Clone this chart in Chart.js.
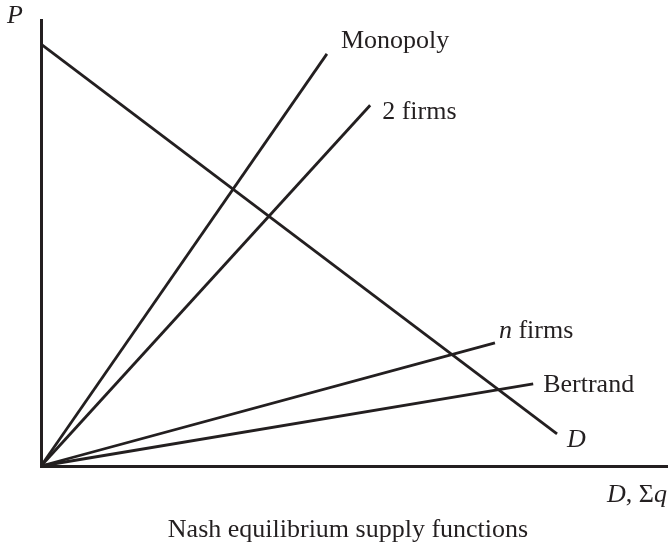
<!DOCTYPE html>
<html>
<head>
<meta charset="utf-8">
<script src="https://cdn.jsdelivr.net/npm/chart.js@4"></script>
<style>
  html, body { margin: 0; padding: 0; background: #fff; }
</style>
</head>
<body>
<canvas id="nash" width="668" height="545"></canvas>
<script>
// schematic lines, in axis units (0-100 on both axes)
const lineNames = ['D', 'Monopoly', '2 firms', 'n firms', 'Bertrand'];
const startX = [0, 0, 0, 0, 0];
const startY = [94.6, 0, 0, 0, 0];
const endX = [82.3, 45.6, 52.5, 72.4, 78.5];
const endY = [7.2, 92.4, 80.9, 27.6, 18.4];

const ink = '#231f20';
const serif = '"Liberation Serif", "Times New Roman", serif';
const fontSize = 26;

// label text runs [text, italic] and offset from the line end (px)
const labelRuns = {
  'D': [['D', true]],
  'Monopoly': [['Monopoly', false]],
  '2 firms': [['2 firms', false]],
  'n firms': [['n', true], [' firms', false]],
  'Bertrand': [['Bertrand', false]],
};
const labelOffset = {
  'D': [10, 13],
  'Monopoly': [14, -6],
  '2 firms': [12, 14],
  'n firms': [4, -5],
  'Bertrand': [10, 8],
};

function drawRuns(ctx, runs, x, y, align) {
  let total = 0;
  runs.forEach(r => {
    ctx.font = (r[1] ? 'italic ' : '') + fontSize + 'px ' + serif;
    total += ctx.measureText(r[0]).width;
  });
  let cx = align === 'right' ? x - total : align === 'center' ? x - total / 2 : x;
  runs.forEach(r => {
    ctx.font = (r[1] ? 'italic ' : '') + fontSize + 'px ' + serif;
    ctx.fillText(r[0], cx, y);
    cx += ctx.measureText(r[0]).width;
  });
}

const textPlugin = {
  id: 'diagramText',
  afterDraw(chart) {
    const ctx = chart.ctx;
    const xs = chart.scales.x, ys = chart.scales.y;
    ctx.save();
    ctx.fillStyle = ink;
    ctx.textBaseline = 'alphabetic';
    ctx.textAlign = 'left';
    lineNames.forEach((name, i) => {
      const px = xs.getPixelForValue(endX[i]);
      const py = ys.getPixelForValue(endY[i]);
      const off = labelOffset[name];
      drawRuns(ctx, labelRuns[name], px + off[0], py + off[1], 'left');
    });
    const area = chart.chartArea;
    drawRuns(ctx, [['P', true]], area.left - 34, area.top + 3, 'left');
    drawRuns(ctx, [['D', true], [', Σ', false], ['q', true]], area.right - 1, area.bottom + 36, 'right');
    drawRuns(ctx, [['Nash equilibrium supply functions', false]], 348, area.bottom + 71, 'center');
    ctx.restore();
  }
};

const datasets = lineNames.map((name, i) => ({
  label: name,
  data: [{ x: startX[i], y: startY[i] }, { x: endX[i], y: endY[i] }],
  showLine: true,
  borderColor: ink,
  borderWidth: 2.8,
  pointRadius: 0,
  clip: false,
}));

new Chart(document.getElementById('nash'), {
  type: 'scatter',
  data: { datasets: datasets },
  options: {
    responsive: false,
    animation: false,
    layout: { padding: { top: 20, left: 0, right: 0, bottom: 0 } },
    plugins: { legend: { display: false }, tooltip: { enabled: false } },
    scales: {
      x: {
        type: 'linear', min: 0, max: 100,
        grid: { display: false },
        ticks: { display: false },
        border: { display: true, color: ink, width: 3 },
        afterFit: s => { s.height = 79; },
      },
      y: {
        type: 'linear', min: 0, max: 100,
        grid: { display: false },
        ticks: { display: false },
        border: { display: true, color: ink, width: 3 },
        afterFit: s => { s.width = 41; },
      },
    },
  },
  plugins: [textPlugin],
});
</script>
</body>
</html>
